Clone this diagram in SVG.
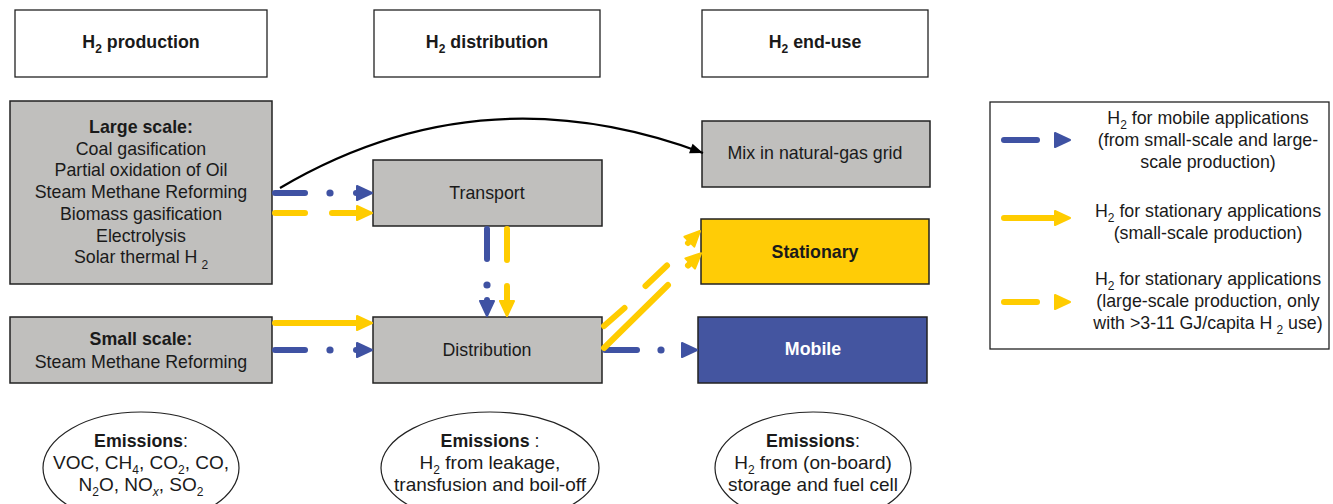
<svg xmlns="http://www.w3.org/2000/svg" width="1333" height="504" viewBox="0 0 1333 504">
<defs>
<style>
text{font-family:"Liberation Sans",Arial,sans-serif;font-size:17.8px;fill:#1a1a1a;text-anchor:middle}
.b{font-weight:bold}
.hdr{fill:#fff;stroke:#222;stroke-width:1.3}
.gray{fill:#c0bfbd;stroke:#222;stroke-width:1.5}
.em{fill:#fff;stroke:#222;stroke-width:1.2}
.et{font-size:19px}
.bl{fill:none;stroke:#3f52a3;stroke-width:6;stroke-linecap:round}
.yl{fill:none;stroke:#ffcc00;stroke-width:6;stroke-linecap:round}
.dotb{fill:#3f52a3}
</style>
<marker id="mb" markerUnits="userSpaceOnUse" markerWidth="20" markerHeight="20" refX="8" refY="0" orient="auto" overflow="visible"><path d="M0,-7 L15,0 L0,7 z" fill="#3f52a3" stroke="#3f52a3" stroke-width="2" stroke-linejoin="round"/></marker>
<marker id="my" markerUnits="userSpaceOnUse" markerWidth="20" markerHeight="20" refX="8" refY="0" orient="auto" overflow="visible"><path d="M0,-7 L15,0 L0,7 z" fill="#ffcc00" stroke="#ffcc00" stroke-width="2" stroke-linejoin="round"/></marker>
<marker id="mk" markerUnits="userSpaceOnUse" markerWidth="16" markerHeight="12" refX="13" refY="0" orient="auto" overflow="visible"><path d="M0,-5 L13,0 L0,5 z" fill="#000"/></marker>
</defs>
<rect width="1333" height="504" fill="#fff"/>

<g id="hdr-production"><rect class="hdr" x="15" y="10" width="252" height="67"/><text class="b" x="141" y="48">H<tspan dy="5" font-size="12">2</tspan><tspan dy="-5"> production</tspan></text></g>
<g id="hdr-distribution"><rect class="hdr" x="374" y="10" width="226" height="67"/><text class="b" x="487" y="48">H<tspan dy="5" font-size="12">2</tspan><tspan dy="-5"> distribution</tspan></text></g>
<g id="hdr-enduse"><rect class="hdr" x="702" y="10" width="226" height="67"/><text class="b" x="815" y="48">H<tspan dy="5" font-size="12">2</tspan><tspan dy="-5"> end-use</tspan></text></g>

<g id="large-scale"><rect class="gray" x="10" y="101" width="262" height="183"/>
<text class="b" x="141" y="133">Large scale:</text>
<text x="141" y="154.7">Coal gasification</text>
<text x="141" y="176.4">Partial oxidation of Oil</text>
<text x="141" y="198.1">Steam Methane Reforming</text>
<text x="141" y="219.8">Biomass gasification</text>
<text x="141" y="241.5">Electrolysis</text>
<text x="141" y="263.2">Solar thermal H<tspan dx="4" dy="6" font-size="12">2</tspan></text>
</g>
<g id="small-scale"><rect class="gray" x="10" y="317" width="262" height="66"/>
<text class="b" x="141" y="345">Small scale:</text>
<text x="141" y="368">Steam Methane Reforming</text>
</g>
<g id="transport"><rect class="gray" x="373" y="160" width="229" height="66"/><text x="487" y="199">Transport</text></g>
<g id="distribution"><rect class="gray" x="373" y="317" width="229" height="66"/><text x="487" y="356">Distribution</text></g>
<g id="mix"><rect class="gray" x="702" y="121" width="228" height="66"/><text x="815" y="159">Mix in natural-gas grid</text></g>
<g id="stationary"><rect x="701" y="219" width="228" height="65" fill="#ffcc06" stroke="#222" stroke-width="1.5"/><text class="b" x="815" y="258">Stationary</text></g>
<g id="mobile"><rect x="698" y="317" width="229" height="66" fill="#4455a0" stroke="#222" stroke-width="1.5"/><text class="b" x="813" y="355" style="fill:#fff">Mobile</text></g>

<g id="emissions-production"><ellipse class="em" cx="141" cy="468" rx="98" ry="56"/>
<text x="141" y="447"><tspan class="b">Emissions</tspan>:</text>
<text class="et" x="141" y="469">VOC, CH<tspan dy="5" font-size="12">4</tspan><tspan dy="-5">, CO</tspan><tspan dy="5" font-size="12">2</tspan><tspan dy="-5">, CO,</tspan></text>
<text class="et" x="141" y="491">N<tspan dy="5" font-size="12">2</tspan><tspan dy="-5">O, NO</tspan><tspan dy="5" font-size="12" font-style="italic">x</tspan><tspan dy="-5">, SO</tspan><tspan dy="5" font-size="12">2</tspan></text>
</g>
<g id="emissions-distribution"><ellipse class="em" cx="490" cy="468" rx="109" ry="56"/>
<text x="490" y="447"><tspan class="b">Emissions</tspan> :</text>
<text class="et" x="490" y="469">H<tspan dy="5" font-size="12">2</tspan><tspan dy="-5"> from leakage,</tspan></text>
<text class="et" x="490" y="491">transfusion and boil-off</text>
</g>
<g id="emissions-enduse"><ellipse class="em" cx="813" cy="468" rx="98" ry="56"/>
<text x="813" y="447"><tspan class="b">Emissions</tspan>:</text>
<text class="et" x="813" y="469">H<tspan dy="5" font-size="12">2</tspan><tspan dy="-5"> from (on-board)</tspan></text>
<text class="et" x="813" y="491">storage and fuel cell</text>
</g>

<g id="legend"><rect x="990" y="102" width="339" height="247" fill="#fff" stroke="#222" stroke-width="1.3"/>
<path class="bl" d="M1004,140 H1037"/><path class="bl" d="M1057,140 H1063" marker-end="url(#mb)"/>
<path class="yl" d="M1004,218 H1063" marker-end="url(#my)"/>
<path class="yl" d="M1004,302 H1037"/><path class="yl" d="M1057,302 H1063" marker-end="url(#my)"/>
<text x="1208" y="124">H<tspan dy="5" font-size="12">2</tspan><tspan dy="-5"> for mobile applications</tspan></text>
<text x="1208" y="146">(from small-scale and large-</text>
<text x="1208" y="168">scale production)</text>
<text x="1208" y="217">H<tspan dy="5" font-size="12">2</tspan><tspan dy="-5"> for stationary applications</tspan></text>
<text x="1208" y="239">(small-scale production)</text>
<text x="1208" y="285">H<tspan dy="5" font-size="12">2</tspan><tspan dy="-5"> for stationary applications</tspan></text>
<text x="1208" y="307">(large-scale production, only</text>
<text x="1208" y="329">with &gt;3-11 GJ/capita H<tspan dx="4" dy="5" font-size="12">2</tspan><tspan dy="-5"> use)</tspan></text>
</g>

<g id="connectors">
<path d="M280,188 Q480,70 703,153" fill="none" stroke="#000" stroke-width="2.2" marker-end="url(#mk)"/>
<path class="bl" d="M275,193 H305"/><circle class="dotb" cx="330" cy="193" r="3.6"/><path class="bl" d="M356,193 H365" marker-end="url(#mb)"/>
<path class="yl" d="M275,213 H305"/><path class="yl" d="M332,213 H365" marker-end="url(#my)"/>
<path class="bl" d="M487,229 V259"/><circle class="dotb" cx="487" cy="285" r="3.6"/><path class="bl" d="M487,300 V309" marker-end="url(#mb)"/>
<path class="yl" d="M507,229 V260"/><path class="yl" d="M507,286 V309" marker-end="url(#my)"/>
<path class="yl" d="M275,323 H365" marker-end="url(#my)"/>
<path class="bl" d="M275,350 H305"/><circle class="dotb" cx="330" cy="350" r="3.6"/><path class="bl" d="M356,350 H365" marker-end="url(#mb)"/>
<path class="bl" d="M605,350 H637"/><circle class="dotb" cx="661" cy="350" r="3.6"/><path class="bl" d="M684,350 H690" marker-end="url(#mb)"/>
<path class="yl" d="M604,326 L624.5,308"/><path class="yl" d="M645.5,286 L667,265.5"/><path class="yl" d="M688,243 L695,236" marker-end="url(#my)"/>
<path class="yl" d="M604,348 L668,285"/><path class="yl" d="M688,265.5 L696,258" marker-end="url(#my)"/>
</g>
</svg>
